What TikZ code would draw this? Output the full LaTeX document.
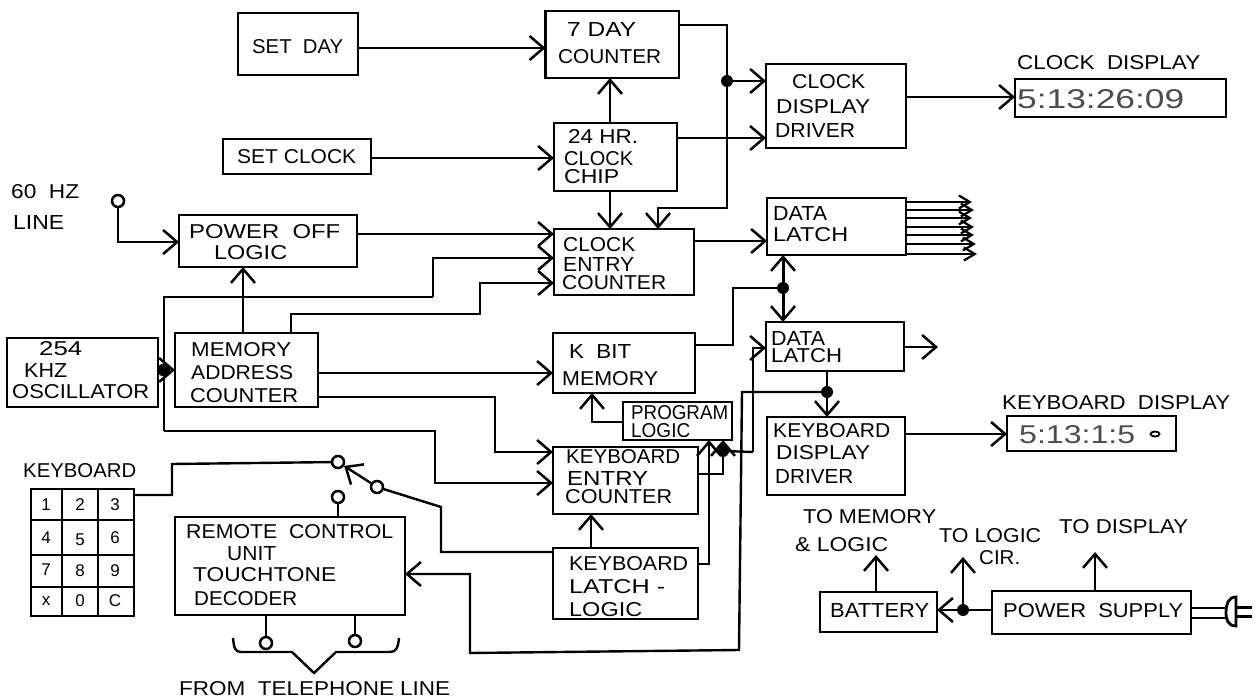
\documentclass[tikz,border=0pt]{standalone}
\usepackage{graphicx}
\usepackage{fontspec}
\setmainfont{Liberation Sans}
\usetikzlibrary{arrows.meta,calc,shapes.geometric}
\tikzset{
  conn/.style={line width=2.4pt,line join=miter,-{Straight Barb[length=14pt,width=24pt,line width=2.5pt]}},
  wire/.style={line width=2.4pt},
  thinout/.style={line width=2.1pt,-{Straight Barb[length=11pt,width=13pt,line width=2.2pt]}},
  boxnode/.style={draw,line width=2.8pt,inner sep=0pt,outer sep=0pt},
  jdot/.style={circle,fill=black,inner sep=0pt,minimum size=12pt},
  term/.style={circle,draw,fill=white,line width=2.5pt,inner sep=0pt,minimum size=12pt},
  digit/.style={inner sep=0pt,font=\fontsize{17}{17}\selectfont},
}
\newcommand\bx[5]{\node[boxnode,minimum width={(#4-#2)*1pt},minimum height={(#5-#3)*1pt}] (#1) at ({(#2+#4)/2},{(#3+#5)/2}) {};}
\newcommand\lbl[5]{\pgfmathsetmacro\lblw{#3-#2}\node[inner sep=0pt,anchor=west] (#1) at (#2,#4) {\resizebox{\lblw pt}{14pt}{#5}};}
\begin{document}
\begin{tikzpicture}[x=1pt,y=-1pt]
\useasboundingbox (0,0) rectangle (1259,698);
% boxes
\bx{setday}{238}{13}{358}{75}
\bx{setclock}{223}{139}{371}{174}
\bx{sevenday}{545.5}{11}{679}{78}
\bx{hrchip}{554}{123}{677}{191}
\bx{centry}{554}{229}{694}{295}
\bx{cdriver}{766}{64}{906}{148}
\bx{cdisp}{1015}{79}{1226}{117}
\bx{latcha}{767}{198}{906}{255}
\bx{latchb}{766}{322}{904}{371}
\bx{poweroff}{179}{215}{357}{267}
\bx{osc}{7}{338}{158}{407}
\bx{mac}{175}{333}{318}{407}
\bx{kbit}{553}{333}{695}{393}
\bx{prog}{623}{402}{732}{440}
\bx{kentry}{553}{447}{698}{514}
\bx{klatch}{553}{548}{698}{619}
\bx{kdriver}{767}{417}{905}{495}
\bx{kdisp}{1007}{416}{1176}{451}
\bx{remote}{175}{517}{405}{615}
\bx{battery}{820}{592}{937}{632}
\bx{psu}{992}{591}{1191}{634}
% keypad
\bx{keypad}{31}{489}{134}{616}
\draw[wire] (62,489) -- (62,616) (98,489) -- (98,616) (31,520) -- (134,520) (31,555) -- (134,555) (31,587) -- (134,587);
\foreach \n/\t/\xx/\yy in {ka/1/46/505,kb/2/80/505,kc/3/115/505,kd/4/46/538,ke/5/80/540,kf/6/115/538,kg/7/46/570,kh/8/80/571,ki/9/115/571,kj/x/46/601,kk/0/80/601,kl/C/115/601}
  \node[digit] (\n) at (\xx,\yy) {\t};
% labels
\lbl{tsetday}{252}{343}{47}{SET\ \ DAY}
\lbl{tsetclock}{237}{356}{157}{SET CLOCK}
\lbl{t7a}{567}{636}{30}{7 DAY}
\lbl{t7b}{558}{661}{57}{COUNTER}
\lbl{t24a}{568}{638}{137}{24 HR.}
\lbl{t24b}{564}{633}{159}{CLOCK}
\lbl{t24c}{564}{619}{177}{CHIP}
\lbl{tcea}{563}{635}{245}{CLOCK}
\lbl{tceb}{563}{634}{264}{ENTRY}
\lbl{tcec}{562}{666}{283}{COUNTER}
\lbl{tcda}{792}{865}{82}{CLOCK}
\lbl{tcdb}{776}{870}{107}{DISPLAY}
\lbl{tcdc}{775}{855}{131}{DRIVER}
\lbl{tcdl}{1017}{1200}{63}{CLOCK\ \ DISPLAY}
\lbl{tla}{773}{827}{213}{DATA}
\lbl{tlb}{773}{848}{235}{LATCH}
\lbl{tlc}{771}{825}{338}{DATA}
\lbl{tld}{771}{842}{356}{LATCH}
\lbl{t60}{11}{79}{192}{60\ \ HZ}
\lbl{tline}{13}{64}{222}{LINE}
\lbl{tpa}{189}{340}{232}{POWER\ \ OFF}
\lbl{tpb}{214}{287}{253}{LOGIC}
\lbl{tosa}{39}{82}{349}{254}
\lbl{tosb}{24}{67}{370}{KHZ}
\lbl{tosc}{12}{149}{392}{OSCILLATOR}
\lbl{tma}{191}{291}{350}{MEMORY}
\lbl{tmb}{191}{293}{373}{ADDRESS}
\lbl{tmc}{190}{298}{396}{COUNTER}
\lbl{tka}{569}{631}{351}{K\ \ BIT}
\lbl{tkb}{562}{658}{379}{MEMORY}
\lbl{tpra}{631}{728}{413}{PROGRAM}
\lbl{tprb}{631}{690}{431}{LOGIC}
\lbl{tkea}{566}{680}{457}{KEYBOARD}
\lbl{tkeb}{567}{648}{478}{ENTRY}
\lbl{tkec}{565}{672}{497}{COUNTER}
\lbl{tkla}{569}{688}{564}{KEYBOARD}
\lbl{tklb}{569}{665}{587}{LATCH -}
\lbl{tklc}{569}{642}{610}{LOGIC}
\lbl{tkda}{773}{890}{431}{KEYBOARD}
\lbl{tkdb}{776}{870}{453}{DISPLAY}
\lbl{tkdc}{775}{853}{476}{DRIVER}
\lbl{tkdl}{1002}{1230}{403}{KEYBOARD\ \ DISPLAY}
\lbl{tkbd}{23}{136}{471}{KEYBOARD}
\lbl{tra}{186}{393}{532}{REMOTE\ \ CONTROL}
\lbl{trb}{227}{276}{554}{UNIT}
\lbl{trc}{193}{336}{575}{TOUCHTONE}
\lbl{trd}{194}{297}{599}{DECODER}
\lbl{ttel}{179}{450}{689}{FROM\ \ TELEPHONE LINE}
\lbl{tsa}{803}{936}{517}{TO MEMORY}
\lbl{tsb}{795}{888}{545}{\& LOGIC}
\lbl{tsc}{939}{1041}{536}{TO LOGIC}
\lbl{tsd}{979}{1020}{558}{CIR.}
\lbl{tse}{1059}{1188}{527}{TO DISPLAY}
\lbl{tbat}{830}{929}{610}{BATTERY}
\lbl{tpsu}{1003}{1183}{611}{POWER\ \ SUPPLY}
\node[inner sep=0pt,anchor=west,text=black!70] (tdisp) at (1017,99) {\resizebox{167pt}{19pt}{5:13:26:09}};
\node[inner sep=0pt,anchor=west,text=black!70] (tkdisp) at (1019,435) {\resizebox{116pt}{18pt}{5:13:1:5}};
\node[draw,fill=white,ellipse,line width=1.8pt,minimum width=9pt,minimum height=5pt,inner sep=0pt] (tkdot) at (1155,434) {};
% junctions
\node[jdot] (jclk) at (727,81) {};
\node[jdot] (jlat) at (783,288) {};
\node[jdot] (jkd) at (827,392) {};
\node[jdot,minimum size=13pt] (josc) at (164,370) {};
\node[jdot] (jprog) at (723,451) {};
\node[jdot] (jpsu) at (963,610) {};
% top-left connectors
\draw[conn] (setday.east |- 0,48) -- (sevenday.west |- 0,48);
\draw[conn] (setclock.east |- 0,158) -- (hrchip.west |- 0,158);
\draw[conn] (610,123) -- (610,78);
\draw[conn] (610,191) -- (610,229);
\draw[wire] (sevenday.east |- 0,25) -- (jclk |- 0,25) -- (jclk);
\draw[conn] (jclk) -- (cdriver.west |- jclk);
\draw[conn] (jclk) -- (jclk |- 0,208) -- (658,208) -- (658,229);
\draw[conn] (hrchip.east |- 0,138) -- (cdriver.west |- 0,138);
\draw[conn] (cdriver.east |- 0,97) -- (cdisp.west |- 0,97);
\draw[conn] (centry.east |- 0,241) -- (latcha.west |- 0,241);
\foreach \yy/\xe in {202/972,210/974,218/972,227/974,235/974,244/976,254/977}
  \draw[thinout] (latcha.east |- 0,\yy) -- (\xe,\yy);
% left connectors
\node[term] (t60hz) at (118,201) {};
\draw[conn] (t60hz) -- (118,242) -- (poweroff.west |- 0,242);
\draw[conn] (poweroff.east |- 0,234) -- (centry.west |- 0,234);
\draw[conn] (mac.north -| 243,0) -- (poweroff.south -| 243,0);
\draw[conn] (433,297) -- (433,258) -- (centry.west |- 0,258);
\draw[wire] (164,431) -- (josc) -- (164,297) -- (433,297);
\draw[conn] (291,333) -- (291,314) -- (480,314) -- (480,283) -- (centry.west |- 0,283);
\draw[wire] (osc.east |- josc) -- (josc);
\draw[conn] (josc) -- (mac.west |- josc);
\draw[conn] (mac.east |- 0,373) -- (kbit.west |- 0,373);
\draw[conn] (mac.east |- 0,397) -- (495,397) -- (495,452) -- (kentry.west |- 0,452);
\draw[conn] (164,431) -- (435,431) -- (435,483) -- (kentry.west |- 0,483);
% middle connectors
\draw[wire] (kbit.east |- 0,345) -- (733,345) -- (733,288) -- (jlat);
\draw[conn,line width=3pt] (jlat) -- (jlat |- latcha.south);
\draw[conn,line width=3pt] (jlat) -- (jlat |- latchb.north);
\draw[conn] (753,452) -- (753,348) -- (latchb.west |- 0,348);
\draw[conn] (latchb.east |- 0,347) -- (938,347);
\draw[wire] (827,371) -- (jkd);
\draw[conn] (jkd) -- (827,417);
\draw[conn] (jkd) -- (742,392) -- (739,650) -- (470,653) -- (470,574) -- (remote.east |- 0,574);
\draw[conn] (kdriver.east |- 0,434) -- (kdisp.west |- 0,434);
\draw[conn] (prog.west |- 0,422) -- (592,422) -- (592,393);
\draw[conn] (klatch.east |- 0,564) -- (709,564) -- (709,440);
\draw[wire] (kentry.east |- 0,474) -- (723,474) -- (jprog);
\draw[conn] (jprog) -- (723,440);
\draw[wire] (jprog) -- (753,452);
\draw[conn] (klatch.north -| 591,0) -- (kentry.south -| 591,0);
% keypad and switch
\node[term] (sa) at (338,462) {};
\node[term] (sb) at (377,487) {};
\node[term] (sc) at (338,497) {};
\draw[wire] (keypad.east |- 0,495) -- (172,495) -- (172,464) -- (sa);
\draw[wire] (sc) -- (remote.north -| sc);
\draw[wire] (sb) -- (441,507) -- (441,552) -- (klatch.west |- 0,552);
\draw[conn] (sb) -- (sa);
\node[term] (tl1) at (266,643) {};
\node[term] (tl2) at (355,641) {};
\draw[wire] (tl1) -- (remote.south -| tl1);
\draw[wire] (tl2) -- (remote.south -| tl2);
\draw[wire] (233,638) .. controls (234,648) and (235,652) .. (241,652) -- (292,652) -- (314,673) -- (336,652) -- (390,652) .. controls (396,652) and (398,648) .. (399,638);
% power section
\draw[conn] (876,592) -- (876,555);
\draw[conn] (1095,591) -- (1095,552);
\draw[wire] (psu.west |- jpsu) -- (jpsu);
\draw[conn] (jpsu) -- (battery.east |- jpsu);
\draw[conn] (jpsu) -- (963,557);
\draw[wire] (psu.east |- 0,608) -- (1227,608) (psu.east |- 0,618) -- (1227,618);
\draw[line width=2.8pt] (1236,597) .. controls (1228,597) and (1226,605) .. (1226,612) .. controls (1226,620) and (1228,626) .. (1236,626) -- cycle;
\draw[line width=3pt] (1236,607) -- (1252,607) (1236,616) -- (1252,616);
\end{tikzpicture}
\end{document}
